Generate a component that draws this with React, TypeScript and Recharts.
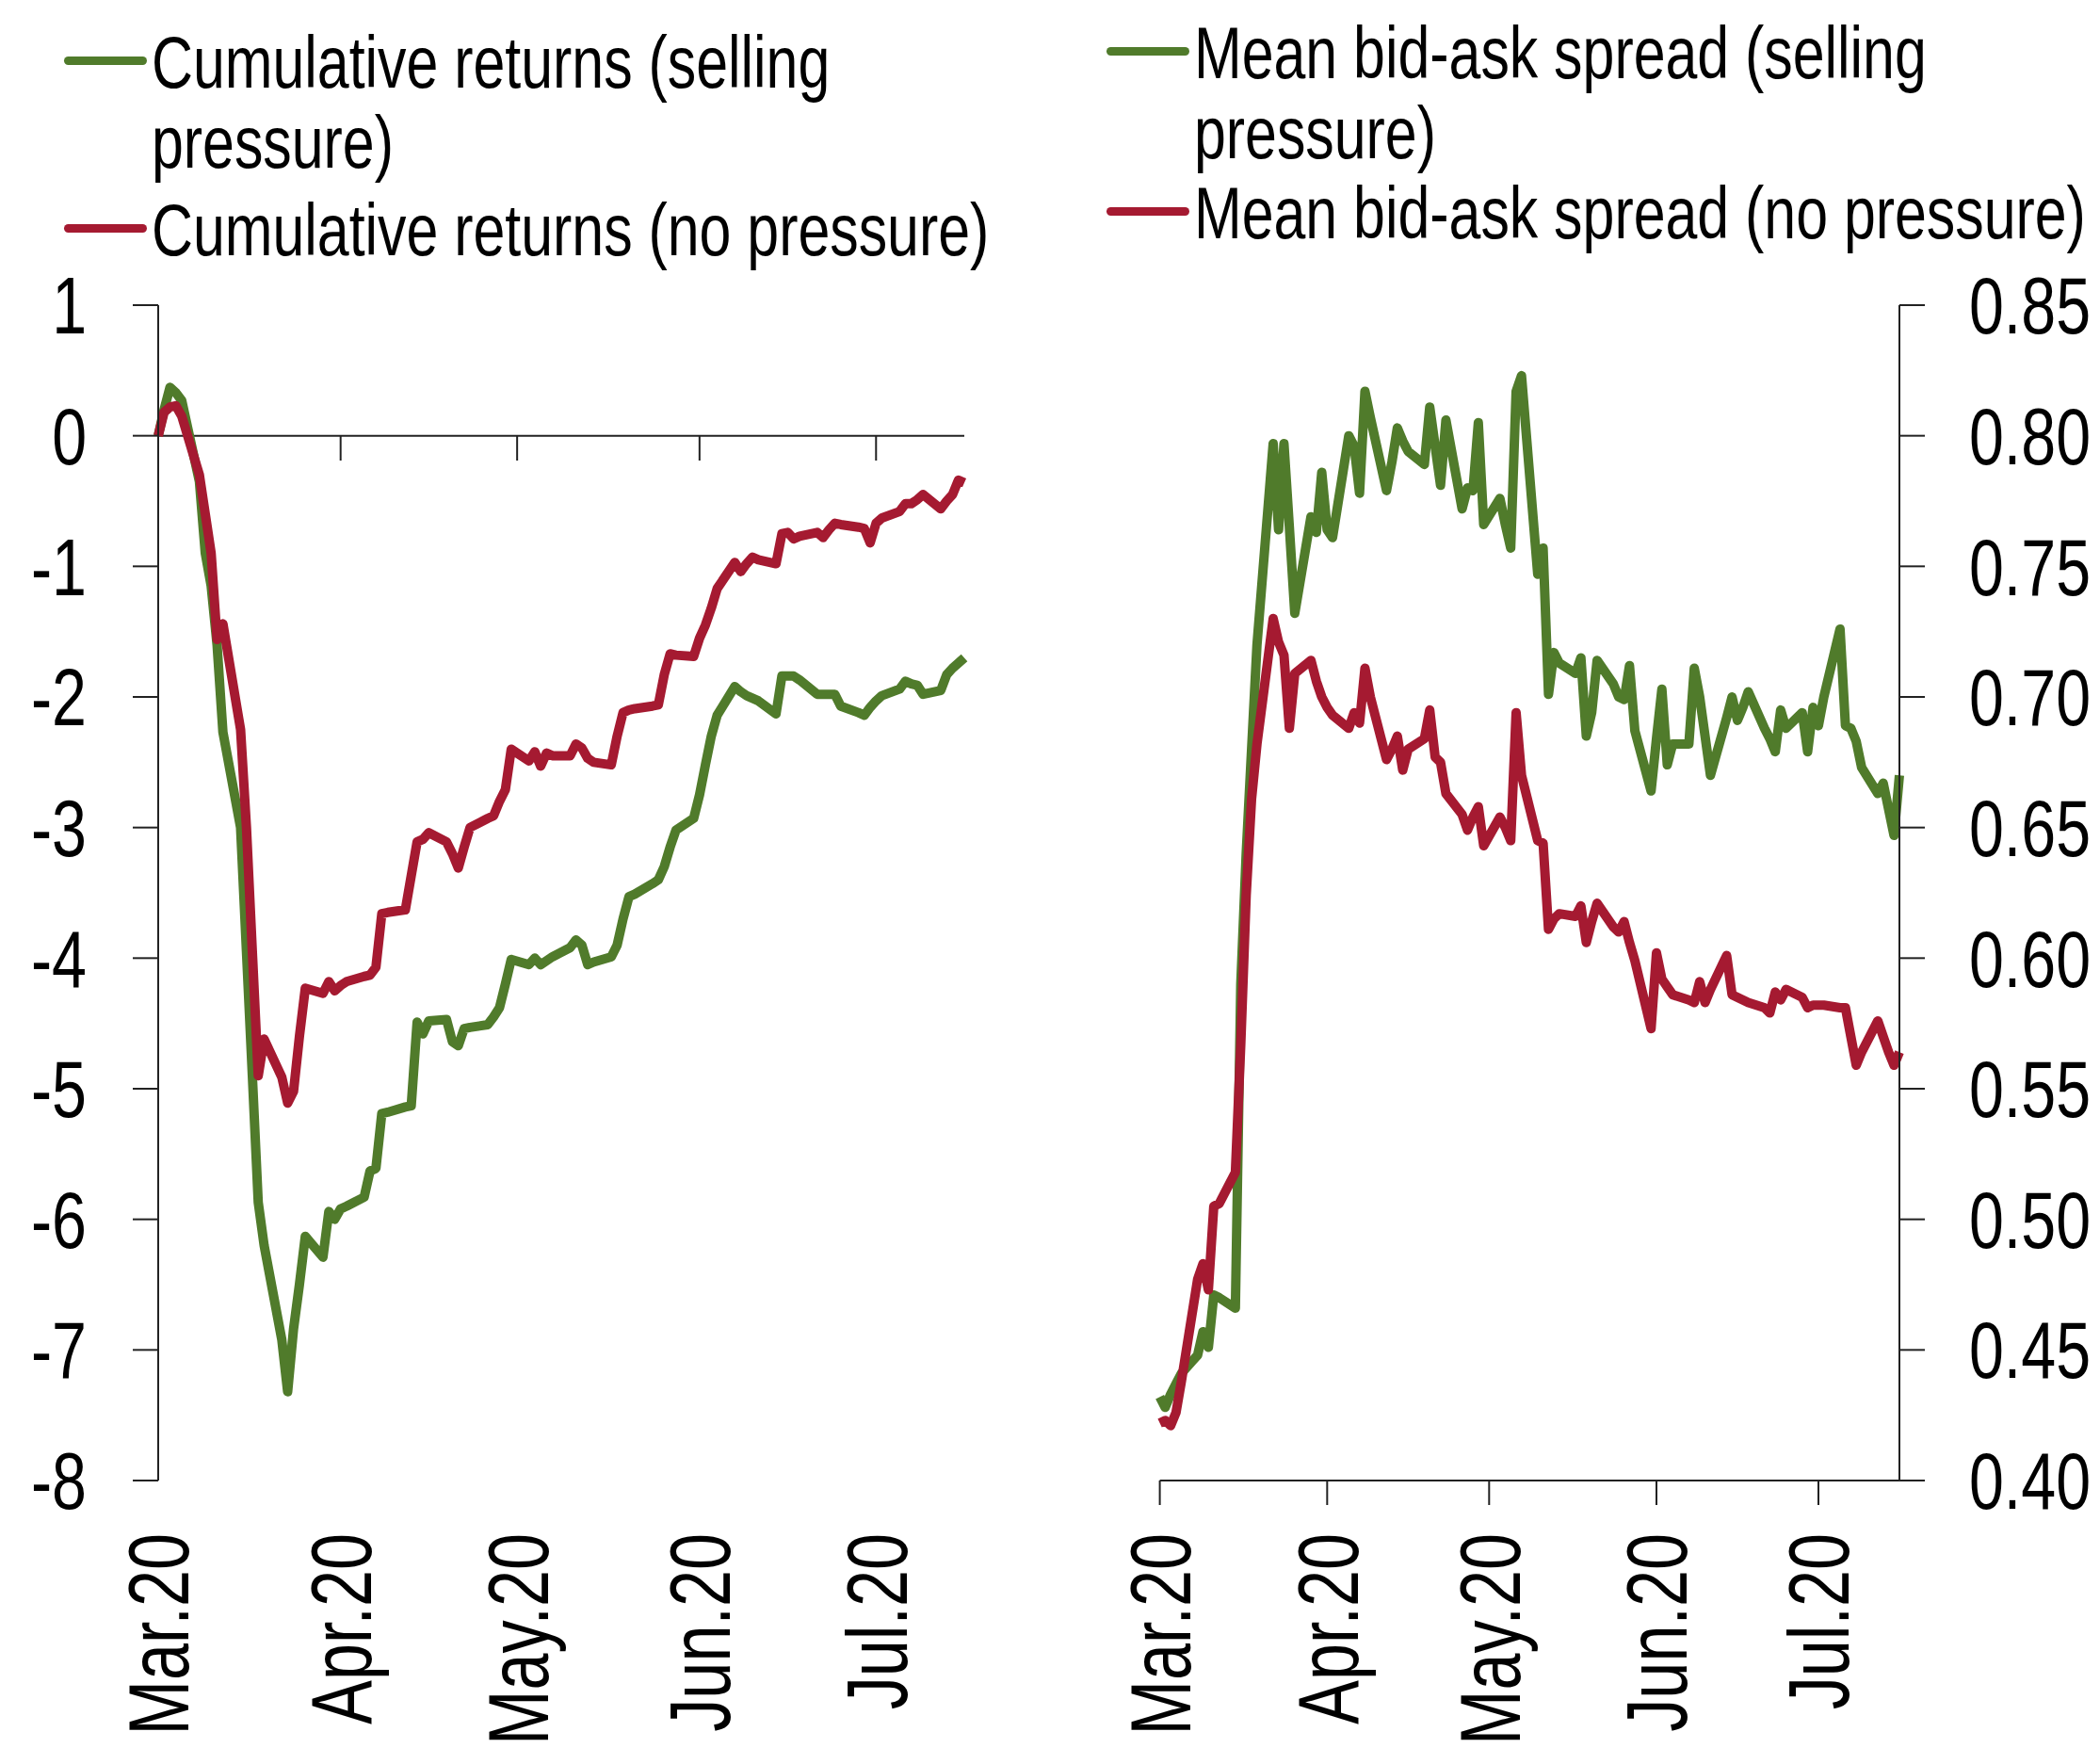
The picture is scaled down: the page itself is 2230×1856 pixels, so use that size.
import React from 'react';
import { LineChart, Line, XAxis, YAxis, ReferenceLine, Legend } from 'recharts';

// ---- data (weekdays, 2 Mar 2020 - 17 Jul 2020) ----
const dates = [
  '03-02','03-03','03-04','03-05','03-06','03-09','03-10','03-11','03-12','03-13','03-16','03-17','03-18','03-19','03-20','03-23','03-24','03-25','03-26','03-27','03-30','03-31',
  '04-01','04-02','04-03','04-06','04-07','04-08','04-09','04-10','04-13','04-14','04-15','04-16','04-17','04-20','04-21','04-22','04-23','04-24','04-27','04-28','04-29','04-30',
  '05-01','05-04','05-05','05-06','05-07','05-08','05-11','05-12','05-13','05-14','05-15','05-18','05-19','05-20','05-21','05-22','05-25','05-26','05-27','05-28','05-29',
  '06-01','06-02','06-03','06-04','06-05','06-08','06-09','06-10','06-11','06-12','06-15','06-16','06-17','06-18','06-19','06-22','06-23','06-24','06-25','06-26','06-29','06-30',
  '07-01','07-02','07-03','07-06','07-07','07-08','07-09','07-10','07-13','07-14','07-15','07-16','07-17',
];

const returnsSelling = [
  0.00, 0.20, 0.37, 0.33, 0.27, -0.35, -0.90, -1.15, -1.60, -2.27, -3.00, -3.95, -4.90, -5.87, -6.20, -6.92, -7.32, -6.84, -6.50, -6.13, -6.29, -5.94,
  -6.00, -5.92, -5.90, -5.83, -5.63, -5.61, -5.19, -5.18, -5.14, -5.13, -4.49, -4.58, -4.48, -4.47, -4.64, -4.67, -4.54, -4.53, -4.51, -4.45, -4.38, -4.20,
  -4.01, -4.05, -4.00, -4.05, -4.02, -3.99, -3.92, -3.86, -3.90, -4.05, -4.03, -3.99, -3.90, -3.70, -3.53, -3.51, -3.43, -3.40, -3.30, -3.15, -3.02,
  -2.93, -2.75, -2.52, -2.30, -2.14, -1.92, -1.96, -1.99, -2.01, -2.03, -2.13, -1.84, -1.84, -1.84, -1.87, -1.98, -1.98, -1.98, -1.98, -2.07, -2.12, -2.14,
  -2.08, -2.03, -1.99, -1.94, -1.88, -1.90, -1.91, -1.98, -1.95, -1.83, -1.78, -1.74, -1.70,
];

const returnsNoPressure = [
  0.00, 0.18, 0.22, 0.23, 0.15, -0.30, -0.60, -0.90, -1.56, -1.44, -2.25, -3.00, -3.95, -4.90, -4.62, -4.91, -5.11, -5.02, -4.60, -4.23, -4.27, -4.18,
  -4.25, -4.21, -4.18, -4.14, -4.13, -4.07, -3.66, -3.65, -3.63, -3.37, -3.11, -3.09, -3.04, -3.11, -3.20, -3.31, -3.15, -3.00, -2.93, -2.91, -2.80, -2.71,
  -2.40, -2.49, -2.42, -2.53, -2.43, -2.45, -2.45, -2.36, -2.39, -2.47, -2.50, -2.52, -2.30, -2.12, -2.10, -2.09, -2.07, -2.06, -1.83, -1.67, -1.68,
  -1.69, -1.55, -1.45, -1.32, -1.17, -0.97, -1.04, -0.98, -0.93, -0.95, -0.98, -0.75, -0.74, -0.79, -0.77, -0.74, -0.78, -0.72, -0.67, -0.68, -0.70, -0.71,
  -0.82, -0.67, -0.63, -0.58, -0.52, -0.52, -0.49, -0.45, -0.56, -0.50, -0.45, -0.34, -0.36,
];

const spreadSelling = [
  0.432, 0.428, 0.433, 0.437, 0.441, 0.448, 0.457, 0.451, 0.471, 0.470, 0.466, 0.590, 0.640, 0.680, 0.720, 0.797, 0.764, 0.797, 0.765, 0.732, 0.769, 0.763,
  0.786, 0.764, 0.761, 0.800, 0.796, 0.778, 0.817, 0.807, 0.779, 0.790, 0.803, 0.798, 0.794, 0.789, 0.811, 0.796, 0.781, 0.806, 0.772, 0.780, 0.779, 0.805,
  0.766, 0.776, 0.766, 0.757, 0.817, 0.823, 0.747, 0.757, 0.701, 0.717, 0.713, 0.709, 0.715, 0.685, 0.694, 0.714, 0.705, 0.700, 0.699, 0.712, 0.687,
  0.664, 0.684, 0.703, 0.674, 0.682, 0.682, 0.711, 0.700, 0.685, 0.670, 0.692, 0.700, 0.691, 0.696, 0.702, 0.688, 0.684, 0.679, 0.695, 0.688, 0.694, 0.679,
  0.696, 0.689, 0.700, 0.726, 0.689, 0.688, 0.683, 0.673, 0.663, 0.667, 0.657, 0.647, 0.670,
];

const spreadNoPressure = [
  0.422, 0.423, 0.421, 0.426, 0.438, 0.477, 0.483, 0.473, 0.505, 0.506, 0.518, 0.567, 0.624, 0.661, 0.682, 0.730, 0.721, 0.716, 0.688, 0.709, 0.714, 0.706,
  0.700, 0.696, 0.693, 0.688, 0.694, 0.690, 0.711, 0.700, 0.676, 0.680, 0.685, 0.672, 0.680, 0.684, 0.695, 0.677, 0.675, 0.663, 0.655, 0.649, 0.654, 0.658,
  0.643, 0.654, 0.650, 0.645, 0.694, 0.670, 0.645, 0.644, 0.611, 0.615, 0.617, 0.616, 0.620, 0.606, 0.614, 0.621, 0.612, 0.610, 0.614, 0.606, 0.599,
  0.573, 0.602, 0.592, 0.589, 0.586, 0.584, 0.583, 0.591, 0.583, 0.588, 0.601, 0.586, 0.585, 0.584, 0.583, 0.581, 0.579, 0.587, 0.584, 0.588, 0.585, 0.581,
  0.582, 0.582, 0.582, 0.581, 0.581, 0.570, 0.559, 0.564, 0.576, 0.570, 0.564, 0.559, 0.564,
];

const monthTickDates = ['03-02', '04-02', '05-02', '06-02', '07-02'];
const monthTickLabels = ['Mar.20', 'Apr.20', 'May.20', 'Jun.20', 'Jul.20'];
const returnsTicks = [1, 0, -1, -2, -3, -4, -5, -6, -7, -8];
const spreadTicks = [0.4, 0.45, 0.5, 0.55, 0.6, 0.65, 0.7, 0.75, 0.8, 0.85];

const seriesNames = {
  returnsSelling: 'Cumulative returns (selling pressure)',
  returnsNoPressure: 'Cumulative returns (no pressure)',
  spreadSelling: 'Mean bid-ask spread (selling pressure)',
  spreadNoPressure: 'Mean bid-ask spread (no pressure)',
};
const legendOrder = ['returnsSelling', 'returnsNoPressure', 'spreadSelling', 'spreadNoPressure'];

// ---- helpers ----
const dayOf = (md: string) => {
  const [m, d] = md.split('-').map(Number);
  return Math.round((Date.UTC(2020, m - 1, d) - Date.UTC(2020, 2, 1)) / 86400000);
};

const data = dates.map((d, i) => ({
  day: dayOf(d),
  returnsSelling: returnsSelling[i],
  returnsNoPressure: returnsNoPressure[i],
  spreadSelling: spreadSelling[i],
  spreadNoPressure: spreadNoPressure[i],
}));

const monthTickDays = monthTickDates.map(dayOf);
const xDomain = [dayOf(dates[0]), dayOf(dates[dates.length - 1])];

const GREEN = '#507B2B';
const RED = '#A51A31';
const AXIS = '#222';
const FONT = '"Liberation Sans", Arial, sans-serif';
const NARROW_SCALE = 0.78;
const LINE_W = 10;

const MonthTick = (props: any) => {
  const { x, y, payload } = props;
  const idx = monthTickDays.indexOf(payload.value);
  return (
    <text
      x={x}
      y={y}
      transform={`rotate(-90 ${x} ${y}) translate(${x} ${y}) scale(${NARROW_SCALE} 1) translate(${-x} ${-y})`}
      textAnchor="end"
      dy="0.36em"
      fontFamily={FONT}
      fontSize={90}
      fill="#000"
    >
      {idx >= 0 ? monthTickLabels[idx] : ''}
    </text>
  );
};

const makeYTick = (anchor: 'start' | 'end', fmt: (v: number) => string) => (props: any) => {
  const { x, y, payload } = props;
  return (
    <text
      x={x}
      y={y}
      transform={`translate(${x} ${y}) scale(${NARROW_SCALE} 1) translate(${-x} ${-y})`}
      textAnchor={anchor}
      dy="0.355em"
      fontFamily={FONT}
      fontSize={85}
      fill="#000"
    >
      {fmt(payload.value)}
    </text>
  );
};
const LeftYTick = makeYTick('end', (v) => String(v));
const RightYTick = makeYTick('start', (v) => v.toFixed(2));

const makeLegend = (textWidth: number, gap: number) => (props: any) => {
  const items = [...(props.payload || [])].sort(
    (a: any, b: any) => legendOrder.indexOf(a.dataKey) - legendOrder.indexOf(b.dataKey)
  );
  return (
    <div style={{ fontFamily: FONT, fontSize: 78, lineHeight: '85px', color: '#000' }}>
      {items.map((p: any, i: number) => (
        <div key={i} style={{ display: 'flex', alignItems: 'flex-start', marginTop: i === 0 ? 0 : gap }}>
          <div style={{ width: 88, height: 9, borderRadius: 4.5, background: p.color, marginTop: 35.5, flex: 'none' }} />
          <div
            style={{
              width: textWidth,
              marginLeft: 5,
              whiteSpace: 'normal',
              transform: `scaleX(${NARROW_SCALE})`,
              transformOrigin: 'left top',
              flex: 'none',
            }}
          >
            {p.value}
          </div>
        </div>
      ))}
    </div>
  );
};

const LeftLegend = makeLegend(1200, 8);
const RightLegend = makeLegend(1260, 0);

const axisLineStyle = { stroke: AXIS, strokeWidth: 2 };

export default function App() {
  return (
    <div style={{ position: 'absolute', left: 0, top: 0, width: 2230, height: 1856, background: '#fff', overflow: 'hidden' }}>
      <div style={{ position: 'absolute', left: 0, top: 0 }}>
        <LineChart width={1060} height={1856} data={data} margin={{ top: 324, right: 36, bottom: 0, left: 0 }}>
          <XAxis
            dataKey="day"
            type="number"
            domain={xDomain}
            ticks={monthTickDays}
            interval={0}
            axisLine={false}
            tickLine={false}
            tickSize={26}
            tickMargin={30}
            height={284}
            tick={<MonthTick />}
          />
          <YAxis
            domain={[-8, 1]}
            ticks={returnsTicks}
            interval={0}
            width={168}
            axisLine={axisLineStyle}
            tickLine={axisLineStyle}
            tickSize={27}
            tickMargin={49}
            tick={<LeftYTick />}
          />
          <ReferenceLine y={0} stroke={AXIS} strokeWidth={2} />
          {monthTickDays.slice(1).map((d) => (
            <ReferenceLine key={d} segment={[{ x: d, y: 0 }, { x: d, y: -0.19 }]} stroke={AXIS} strokeWidth={2} />
          ))}
          <Legend
            layout="vertical"
            align="center"
            verticalAlign="middle"
            wrapperStyle={{ left: 68, top: 24, width: 1040, height: 'auto' }}
            content={<LeftLegend />}
          />
          <Line type="linear" dataKey="returnsSelling" name={seriesNames.returnsSelling} stroke={GREEN} strokeWidth={LINE_W} dot={false} strokeLinejoin="round" isAnimationActive={false} />
          <Line type="linear" dataKey="returnsNoPressure" name={seriesNames.returnsNoPressure} stroke={RED} strokeWidth={LINE_W} dot={false} strokeLinejoin="round" isAnimationActive={false} />
        </LineChart>
      </div>
      <div style={{ position: 'absolute', left: 1100, top: 0 }}>
        <LineChart width={1130} height={1856} data={data} margin={{ top: 324, right: 0, bottom: 0, left: 131.6 }}>
          <XAxis
            dataKey="day"
            type="number"
            domain={xDomain}
            ticks={monthTickDays}
            interval={0}
            axisLine={axisLineStyle}
            tickLine={axisLineStyle}
            tickSize={26}
            tickMargin={30}
            height={284}
            tick={<MonthTick />}
          />
          <YAxis
            orientation="right"
            domain={[0.4, 0.85]}
            ticks={spreadTicks}
            interval={0}
            width={213}
            axisLine={axisLineStyle}
            tickLine={axisLineStyle}
            tickSize={27}
            tickMargin={47}
            tick={<RightYTick />}
          />
          <Legend
            layout="vertical"
            align="center"
            verticalAlign="middle"
            wrapperStyle={{ left: 75, top: 14, width: 1050, height: 'auto' }}
            content={<RightLegend />}
          />
          <Line type="linear" dataKey="spreadSelling" name={seriesNames.spreadSelling} stroke={GREEN} strokeWidth={LINE_W} dot={false} strokeLinejoin="round" isAnimationActive={false} />
          <Line type="linear" dataKey="spreadNoPressure" name={seriesNames.spreadNoPressure} stroke={RED} strokeWidth={LINE_W} dot={false} strokeLinejoin="round" isAnimationActive={false} />
        </LineChart>
      </div>
    </div>
  );
}
